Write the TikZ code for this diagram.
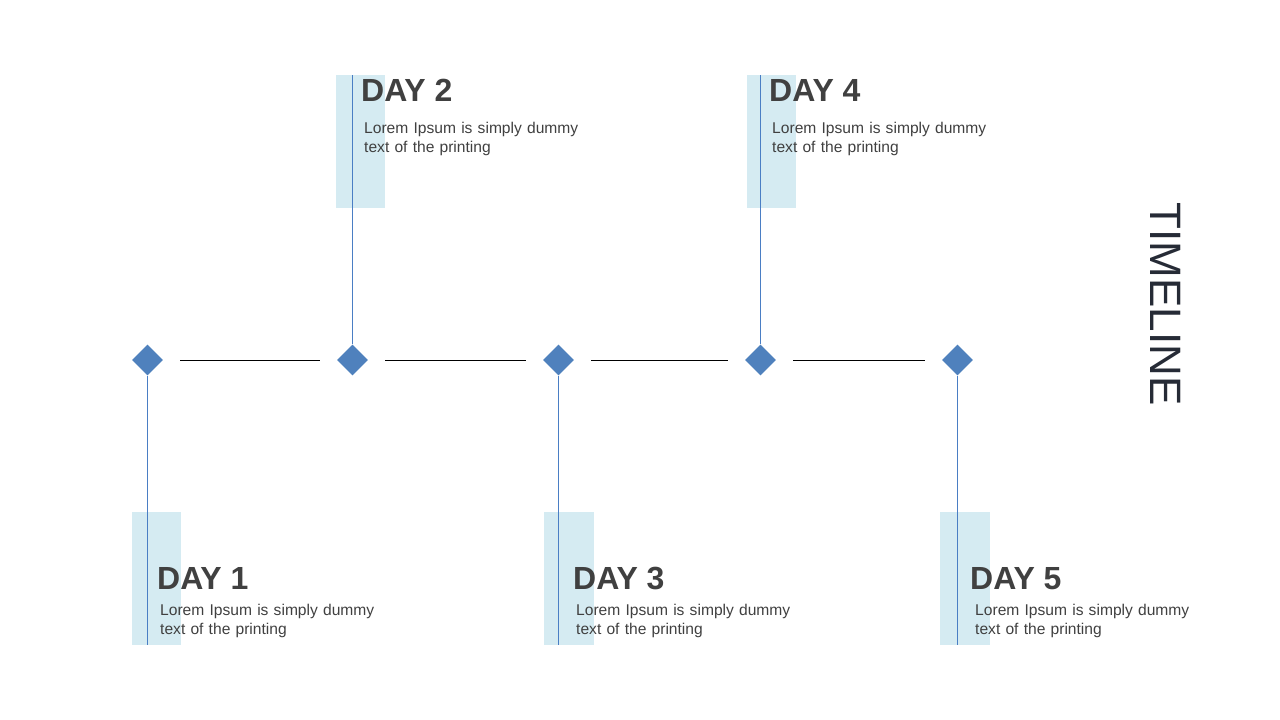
\documentclass[tikz,border=0pt]{standalone}
\usepackage{fontspec}
\setmainfont{Liberation Sans}
\usetikzlibrary{shapes.geometric}
\definecolor{dotblue}{HTML}{4F81BD}
\definecolor{stemblue}{HTML}{4A7EC4}
\definecolor{bandblue}{HTML}{D5EBF2}
\definecolor{textgray}{HTML}{404040}
\definecolor{titlenavy}{HTML}{262B36}
\begin{document}
\begin{tikzpicture}[x=1pt,y=-1pt,
  dot/.style={diamond,fill=dotblue,inner sep=0pt,minimum width=31pt,minimum height=31pt},
  band/.style={fill=bandblue,inner sep=0pt,minimum width=49pt,minimum height=133pt,anchor=north west},
  stem/.style={draw=stemblue,line width=1.1pt},
  link/.style={draw=black,line width=0.9pt,shorten <=17pt,shorten >=17pt},
  dayhead/.style={anchor=base west,inner sep=0pt,text=textgray,font=\fontsize{32}{38}\selectfont\bfseries},
  daytext/.style={anchor=base west,inner sep=0pt,text=textgray,text width=240pt,align=left,font=\fontsize{15.6}{19}\selectfont}]
\def\ymid{360};
\def\ytop{75};
\def\ylow{512};
\useasboundingbox (0,0) rectangle (1280,720);
% bands behind the stems
\node[band] (b1) at (132,\ylow) {};
\node[band] (b2) at (336,\ytop) {};
\node[band,minimum width=50pt] (b3) at (544,\ylow) {};
\node[band] (b4) at (747,\ytop) {};
\node[band,minimum width=50pt] (b5) at (940,\ylow) {};
% diamonds
\node[dot] (d1) at (147.5,\ymid) {};
\node[dot] (d2) at (352.5,\ymid) {};
\node[dot] (d3) at (558.5,\ymid) {};
\node[dot] (d4) at (760.5,\ymid) {};
\node[dot] (d5) at (957.5,\ymid) {};
\draw[link] (d1) -- (d2);
\draw[link] (d2) -- (d3);
\draw[link] (d3) -- (d4);
\draw[link] (d4) -- (d5);
% stems
\draw[stem] (d1.south) -- (d1.south |- b1.south);
\draw[stem] (d2.north) -- (d2.north |- b2.north);
\draw[stem] (d3.south) -- (d3.south |- b3.south);
\draw[stem] (d4.north) -- (d4.north |- b4.north);
\draw[stem] (d5.south) -- (d5.south |- b5.south);
% labels
\node[dayhead] (h1) at (157,589) {DAY 1};
\node[dayhead] (h2) at (361,101) {DAY 2};
\node[dayhead] (h3) at (573,589) {DAY 3};
\node[dayhead] (h4) at (769,101) {DAY 4};
\node[dayhead] (h5) at (970,589) {DAY 5};
\node[daytext] (t1) at (160,615.5) {Lorem Ipsum is simply dummy\\text of the printing};
\node[daytext] (t2) at (364,133.5) {Lorem Ipsum is simply dummy\\text of the printing};
\node[daytext] (t3) at (576,615.5) {Lorem Ipsum is simply dummy\\text of the printing};
\node[daytext] (t4) at (772,133.5) {Lorem Ipsum is simply dummy\\text of the printing};
\node[daytext] (t5) at (975,615.5) {Lorem Ipsum is simply dummy\\text of the printing};
\node[rotate=-90,inner sep=0pt,text=titlenavy,font=\fontsize{44}{50}\selectfont] (title) at (1166,304) {TIMELINE};
\end{tikzpicture}
\end{document}
